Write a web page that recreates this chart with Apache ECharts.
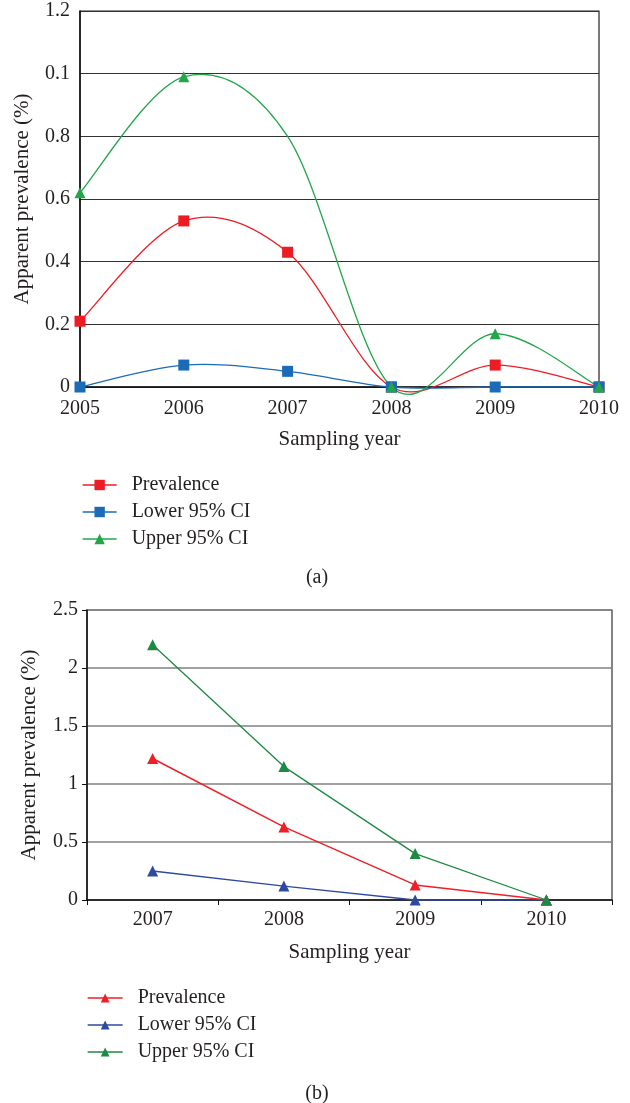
<!DOCTYPE html>
<html>
<head>
<meta charset="utf-8">
<script src="https://cdn.jsdelivr.net/npm/echarts@6/dist/echarts.min.js"></script>
<style>
html,body{margin:0;padding:0;background:#fff;}
#c{width:630px;height:1103px;}
</style>
</head>
<body>
<div id="c"></div>
<script>
// ---- Chart (a) data ----
var yearsA = ['2005','2006','2007','2008','2009','2010'];
var prevA  = [0.21, 0.53, 0.43, 0, 0.07, 0];
var lowerA = [0, 0.07, 0.05, 0, 0, 0];
var upperA = [0.62, 0.99, 0.80, 0, 0.17, 0];
var upperAHiddenMarker = [2];            // no marker drawn at 2007 in the original
var yTicksA = ['0','0.2','0.4','0.6','0.8','0.1','1.2'];  // as printed in the original

// ---- Chart (b) data ----
var yearsB = ['2007','2008','2009','2010'];
var prevB  = [1.22, 0.63, 0.13, 0];
var lowerB = [0.25, 0.12, 0, 0];
var upperB = [2.2, 1.15, 0.4, 0];

var FONT = 'Liberation Serif';
var TXT = '#231f20';
var RED_A = '#ed1c24', BLUE_A = '#1b6bb8', GREEN_A = '#22a64a';
var RED_B = '#ee2026', BLUE_B = '#2e4a9e', GREEN_B = '#1c8a42';

var chart = echarts.init(document.getElementById('c'), null, {renderer:'canvas'});

function mkData(arr, hidden){
  return arr.map(function(v,i){
    if (hidden && hidden.indexOf(i) >= 0) return {value:v, symbol:'none'};
    return v;
  });
}

// Smoothed (spreadsheet-style Catmull-Rom) curve through the data points, drawn via the axes' scales
function smoothCurve(arr, color){
  return {
    type:'custom', xAxisIndex:0, yAxisIndex:0, silent:true, z:2, clip:false,
    data: arr.map(function(v,i){ return [i, v]; }),
    encode:{x:0, y:1},
    renderItem:function(params, api){
      var i = params.dataIndex, n = arr.length;
      if (i >= n - 1) return null;
      var p1 = api.coord([i, arr[i]]);
      var p2 = api.coord([i + 1, arr[i + 1]]);
      var p0 = i > 0 ? api.coord([i - 1, arr[i - 1]]) : p1;
      var p3 = i + 2 < n ? api.coord([i + 2, arr[i + 2]]) : p2;
      return {
        type:'bezierCurve',
        shape:{
          x1:p1[0], y1:p1[1], x2:p2[0], y2:p2[1],
          cpx1:p1[0] + (p2[0] - p0[0]) / 6, cpy1:p1[1] + (p2[1] - p0[1]) / 6,
          cpx2:p2[0] - (p3[0] - p1[0]) / 6, cpy2:p2[1] - (p3[1] - p1[1]) / 6
        },
        style:{stroke:color, fill:null, lineWidth:1.3}
      };
    }
  };
}

var legendText = {fontFamily:FONT, fontSize:20, color:TXT, lineHeight:20, padding:[0,0,0,10]};

var option = {
  animation:false,
  backgroundColor:'#fff',
  textStyle:{fontFamily:FONT},
  title:[
    {text:'(a)', left:312, top:563, textAlign:'center', textStyle:{fontFamily:FONT, fontSize:20, fontWeight:'normal', color:TXT}},
    {text:'(b)', left:312, top:1079, textAlign:'center', textStyle:{fontFamily:FONT, fontSize:20, fontWeight:'normal', color:TXT}}
  ],
  legend:[
    {orient:'vertical', left:77, top:470, itemWidth:34, itemHeight:13, itemGap:7,
     textStyle:legendText, selectedMode:false,
     data:[
       {name:'Prevalence', lineStyle:{opacity:1, width:1.3, color:RED_A}},
       {name:'Lower 95% CI', lineStyle:{opacity:1, width:1.3, color:BLUE_A}},
       {name:'Upper 95% CI', lineStyle:{opacity:1, width:1.3, color:GREEN_A}}
     ]},
    {orient:'vertical', left:82, top:983, itemWidth:35, itemHeight:11, itemGap:7,
     textStyle:legendText, selectedMode:false,
     data:[
       {name:'Prevalence ', lineStyle:{width:1.3}},
       {name:'Lower 95% CI ', lineStyle:{width:1.3}},
       {name:'Upper 95% CI ', lineStyle:{width:1.3}}
     ]}
  ],
  grid:[
    {left:80, top:11, width:519, height:376, show:true, borderColor:'#222', borderWidth:1.2, containLabel:false},
    {left:87, top:610, width:525, height:290, show:true, borderColor:'#333', borderWidth:1.2, containLabel:false}
  ],
  xAxis:[
    {type:'category', gridIndex:0, data:yearsA, boundaryGap:false,
     name:'Sampling year', nameLocation:'middle', nameGap:42,
     nameTextStyle:{fontFamily:FONT, fontSize:21, color:TXT},
     axisLine:{lineStyle:{color:'#111', width:1.5}},
     axisTick:{show:false},
     axisLabel:{fontFamily:FONT, fontSize:20, color:TXT, margin:12},
     splitLine:{show:false}},
    {type:'category', gridIndex:1, data:yearsB, boundaryGap:true,
     name:'Sampling year', nameLocation:'middle', nameGap:42,
     nameTextStyle:{fontFamily:FONT, fontSize:21, color:TXT},
     axisLine:{lineStyle:{color:'#111', width:1.5}},
     axisTick:{show:true, inside:false, length:5, lineStyle:{color:'#111'}},
     axisLabel:{fontFamily:FONT, fontSize:20, color:TXT, margin:10},
     splitLine:{show:false}}
  ],
  yAxis:[
    {type:'value', gridIndex:0, min:0, max:1.2, interval:0.2,
     name:'Apparent prevalence (%)', nameLocation:'middle', nameGap:47, nameRotate:90,
     nameTextStyle:{fontFamily:FONT, fontSize:21, color:TXT},
     axisLine:{show:true, lineStyle:{color:'#111', width:1.5}},
     axisTick:{show:false},
     axisLabel:{fontFamily:FONT, fontSize:20, color:TXT, margin:10,
       formatter:function(v){ return yTicksA[Math.round(v/0.2)]; }},
     splitLine:{show:true, lineStyle:{color:'#333', width:1.2}}},
    {type:'value', gridIndex:1, min:0, max:2.5, interval:0.5,
     name:'Apparent prevalence (%)', nameLocation:'middle', nameGap:47, nameRotate:90,
     nameTextStyle:{fontFamily:FONT, fontSize:21, color:TXT},
     axisLine:{show:true, lineStyle:{color:'#111', width:1.5}},
     axisTick:{show:true, inside:false, length:5, lineStyle:{color:'#111'}},
     axisLabel:{fontFamily:FONT, fontSize:20, color:TXT, margin:9},
     splitLine:{show:true, lineStyle:{color:'#808080', width:1.5}}}
  ],
  series:[
    smoothCurve(prevA, RED_A),
    smoothCurve(lowerA, BLUE_A),
    smoothCurve(upperA, GREEN_A),
    {name:'Prevalence', type:'line', xAxisIndex:0, yAxisIndex:0, data:mkData(prevA),
     clip:false, symbol:'rect', symbolSize:11, z:3,
     lineStyle:{color:RED_A, width:1.3, opacity:0}, itemStyle:{color:RED_A}},
    {name:'Lower 95% CI', type:'line', xAxisIndex:0, yAxisIndex:0, data:mkData(lowerA),
     clip:false, symbol:'rect', symbolSize:11, z:4,
     lineStyle:{color:BLUE_A, width:1.3, opacity:0}, itemStyle:{color:BLUE_A}},
    {name:'Upper 95% CI', type:'line', xAxisIndex:0, yAxisIndex:0, data:mkData(upperA, upperAHiddenMarker),
     clip:false, symbol:'triangle', symbolSize:11, z:5,
     lineStyle:{color:GREEN_A, width:1.3, opacity:0}, itemStyle:{color:GREEN_A}},

    {name:'Prevalence ', type:'line', xAxisIndex:1, yAxisIndex:1, data:prevB,
     clip:false, symbol:'triangle', symbolSize:11, z:4,
     lineStyle:{color:RED_B, width:1.5}, itemStyle:{color:RED_B}},
    {name:'Lower 95% CI ', type:'line', xAxisIndex:1, yAxisIndex:1, data:lowerB,
     clip:false, symbol:'triangle', symbolSize:11, z:3,
     lineStyle:{color:BLUE_B, width:1.3}, itemStyle:{color:BLUE_B}},
    {name:'Upper 95% CI ', type:'line', xAxisIndex:1, yAxisIndex:1, data:upperB,
     clip:false, symbol:'triangle', symbolSize:11, z:5,
     lineStyle:{color:GREEN_B, width:1.3}, itemStyle:{color:GREEN_B}}
  ]
};
chart.setOption(option);
</script>
</body>
</html>
